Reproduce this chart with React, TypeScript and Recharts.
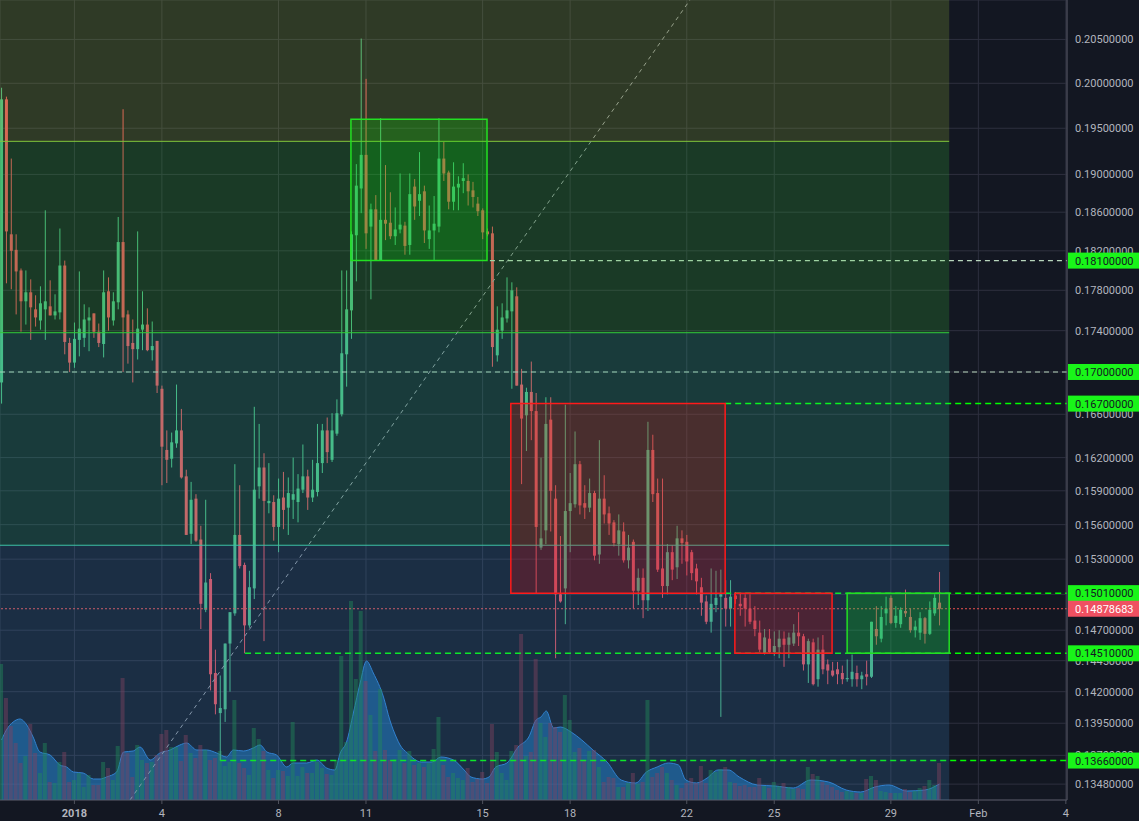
import React from 'react';
import {
  ComposedChart,
  Bar,
  Area,
  XAxis,
  YAxis,
  CartesianGrid,
  ReferenceArea,
  ReferenceLine,
} from 'recharts';

// 4h candles, index 0 = first bar on screen (index 15 = Jan 1 00:00)
const opens = [
  0.1690, 0.1982, 0.1837, 0.1821, 0.1800, 0.1769, 0.1778, 0.1761, 0.1750, 0.1761,
  0.1764, 0.1755, 0.1758, 0.1805, 0.1728, 0.1709, 0.1731, 0.1733, 0.1750, 0.1757,
  0.1739, 0.1727, 0.1779, 0.1750, 0.1768, 0.1829, 0.1756, 0.1728, 0.1722, 0.1741,
  0.1746, 0.1721, 0.1730, 0.1684, 0.1627, 0.1619, 0.1633, 0.1645, 0.1603, 0.1552,
  0.1583, 0.1547, 0.1487, 0.1513, 0.1435, 0.1403, 0.1406, 0.1459, 0.1484, 0.1551,
  0.1525, 0.1474, 0.1505, 0.1594, 0.1611, 0.1579, 0.1580, 0.1558, 0.1584, 0.1575,
  0.1582, 0.1580, 0.1591, 0.1603, 0.1584, 0.1589, 0.1615, 0.1645, 0.1618, 0.1642,
  0.1660, 0.1717, 0.1760, 0.1836, 0.1885, 0.1921, 0.1845, 0.1863, 0.1810, 0.1852,
  0.1849, 0.1835, 0.1842, 0.1846, 0.1826, 0.1887, 0.1872, 0.1882, 0.1832, 0.1841,
  0.1845, 0.1917, 0.1902, 0.1871, 0.1886, 0.1893, 0.1893, 0.1883, 0.1869, 0.1862,
  0.1840, 0.1838, 0.1716, 0.1740, 0.1752, 0.1759, 0.1774, 0.1688, 0.1659, 0.1681,
  0.1663, 0.1540, 0.1555, 0.1655, 0.1583, 0.1500, 0.1505, 0.1572, 0.1578, 0.1614,
  0.1579, 0.1575, 0.1588, 0.1534, 0.1583, 0.1570, 0.1562, 0.1543, 0.1554, 0.1529,
  0.1545, 0.1503, 0.1514, 0.1495, 0.1627, 0.1588, 0.1522, 0.1507, 0.1536, 0.1523,
  0.1548, 0.1545, 0.1536, 0.1522, 0.1506, 0.1494, 0.1477, 0.1491, 0.1498, 0.1497,
  0.1488, 0.1499, 0.1492, 0.1497, 0.1488, 0.1478, 0.1468, 0.1451, 0.1463, 0.1452,
  0.1456, 0.1463, 0.1458, 0.1459, 0.1468, 0.1465, 0.1442, 0.1460, 0.1430, 0.1454,
  0.1442, 0.1437, 0.1438, 0.1435, 0.1430, 0.1430, 0.1435, 0.1430, 0.1434, 0.1432,
  0.1471, 0.1463, 0.1484, 0.1497, 0.1476, 0.1475, 0.1486, 0.1481, 0.1470, 0.1468,
  0.1480, 0.1467, 0.1484, 0.1493,
];
const highs = [
  0.1995, 0.1985, 0.1917, 0.1837, 0.1802, 0.1800, 0.1791, 0.1775, 0.1784, 0.1862,
  0.1790, 0.1776, 0.1843, 0.1810, 0.1733, 0.1748, 0.1799, 0.1766, 0.1763, 0.1757,
  0.1747, 0.1800, 0.1793, 0.1778, 0.1855, 0.1971, 0.1760, 0.1751, 0.1840, 0.1779,
  0.1762, 0.1749, 0.1730, 0.1687, 0.1645, 0.1643, 0.1688, 0.1665, 0.1609, 0.1598,
  0.1587, 0.1559, 0.1582, 0.1518, 0.1454, 0.1433, 0.1459, 0.1485, 0.1614, 0.1595,
  0.1527, 0.1520, 0.1667, 0.1651, 0.1624, 0.1615, 0.1586, 0.1601, 0.1607, 0.1602,
  0.1620, 0.1605, 0.1632, 0.1609, 0.1618, 0.1651, 0.1651, 0.1657, 0.1661, 0.1674,
  0.1800, 0.1800, 0.1840, 0.1911, 0.2051, 0.2005, 0.1869, 0.1878, 0.1961, 0.1910,
  0.1881, 0.1865, 0.1901, 0.1850, 0.1901, 0.1895, 0.1924, 0.1888, 0.1867, 0.1877,
  0.1961, 0.1935, 0.1904, 0.1913, 0.1898, 0.1912, 0.1900, 0.1892, 0.1876, 0.1864,
  0.1843, 0.1845, 0.1764, 0.1767, 0.1793, 0.1788, 0.1783, 0.1703, 0.1685, 0.1710,
  0.1680, 0.1620, 0.1676, 0.1676, 0.1595, 0.1550, 0.1669, 0.1606, 0.1644, 0.1617,
  0.1595, 0.1601, 0.1590, 0.1636, 0.1604, 0.1576, 0.1564, 0.1569, 0.1562, 0.1551,
  0.1547, 0.1522, 0.1522, 0.1653, 0.1641, 0.1601, 0.1601, 0.1543, 0.1542, 0.1559,
  0.1555, 0.1551, 0.1538, 0.1526, 0.1514, 0.1499, 0.1522, 0.1520, 0.1521, 0.1512,
  0.1512, 0.1502, 0.1501, 0.1500, 0.1500, 0.1490, 0.1478, 0.1471, 0.1471, 0.1469,
  0.1470, 0.1469, 0.1468, 0.1475, 0.1485, 0.1467, 0.1463, 0.1463, 0.1464, 0.1466,
  0.1446, 0.1444, 0.1444, 0.1441, 0.1446, 0.1450, 0.1441, 0.1436, 0.1445, 0.1477,
  0.1490, 0.1490, 0.1498, 0.1499, 0.1490, 0.1489, 0.1504, 0.1488, 0.1478, 0.1485,
  0.1481, 0.1494, 0.1500, 0.1519,
];
const lows = [
  0.1670, 0.1787, 0.1781, 0.1756, 0.1739, 0.1746, 0.1731, 0.1744, 0.1741, 0.1731,
  0.1755, 0.1751, 0.1751, 0.1717, 0.1700, 0.1704, 0.1715, 0.1724, 0.1720, 0.1733,
  0.1724, 0.1714, 0.1740, 0.1745, 0.1761, 0.1700, 0.1708, 0.1690, 0.1712, 0.1721,
  0.1720, 0.1711, 0.1680, 0.1595, 0.1597, 0.1611, 0.1629, 0.1601, 0.1551, 0.1543,
  0.1545, 0.1471, 0.1485, 0.1421, 0.1402, 0.1366, 0.1396, 0.1420, 0.1482, 0.1522,
  0.1451, 0.1472, 0.1496, 0.1583, 0.1461, 0.1570, 0.1546, 0.1536, 0.1556, 0.1551,
  0.1565, 0.1562, 0.1588, 0.1573, 0.1580, 0.1585, 0.1606, 0.1615, 0.1616, 0.1640,
  0.1658, 0.1686, 0.1732, 0.1789, 0.1859, 0.1822, 0.1771, 0.1810, 0.1810, 0.1831,
  0.1832, 0.1826, 0.1838, 0.1816, 0.1816, 0.1852, 0.1856, 0.1828, 0.1822, 0.1810,
  0.1839, 0.1893, 0.1863, 0.1862, 0.1862, 0.1880, 0.1867, 0.1865, 0.1856, 0.1832,
  0.1835, 0.1705, 0.1710, 0.1732, 0.1748, 0.1684, 0.1687, 0.1596, 0.1626, 0.1636,
  0.1501, 0.1538, 0.1543, 0.1554, 0.1447, 0.1493, 0.1475, 0.1536, 0.1575, 0.1569,
  0.1565, 0.1571, 0.1529, 0.1526, 0.1561, 0.1551, 0.1541, 0.1533, 0.1527, 0.1522,
  0.1488, 0.1491, 0.1480, 0.1486, 0.1580, 0.1519, 0.1497, 0.1500, 0.1512, 0.1513,
  0.1526, 0.1516, 0.1512, 0.1500, 0.1482, 0.1475, 0.1468, 0.1485, 0.1400, 0.1473,
  0.1473, 0.1492, 0.1482, 0.1473, 0.1475, 0.1465, 0.1452, 0.1450, 0.1451, 0.1449,
  0.1447, 0.1440, 0.1447, 0.1457, 0.1457, 0.1437, 0.1427, 0.1425, 0.1424, 0.1434,
  0.1426, 0.1432, 0.1426, 0.1426, 0.1428, 0.1424, 0.1424, 0.1422, 0.1425, 0.1431,
  0.1458, 0.1460, 0.1474, 0.1475, 0.1472, 0.1472, 0.1481, 0.1468, 0.1464, 0.1462,
  0.1459, 0.1466, 0.1482, 0.1474,
];
const closes = [
  0.1982, 0.1840, 0.1820, 0.1799, 0.1769, 0.1778, 0.1763, 0.1753, 0.1767, 0.1769,
  0.1755, 0.1759, 0.1805, 0.1729, 0.1709, 0.1732, 0.1742, 0.1751, 0.1753, 0.1739,
  0.1728, 0.1778, 0.1753, 0.1769, 0.1829, 0.1753, 0.1725, 0.1722, 0.1742, 0.1746,
  0.1721, 0.1725, 0.1687, 0.1630, 0.1618, 0.1634, 0.1645, 0.1602, 0.1551, 0.1582,
  0.1546, 0.1492, 0.1510, 0.1434, 0.1410, 0.1407, 0.1459, 0.1485, 0.1551, 0.1524,
  0.1474, 0.1506, 0.1591, 0.1611, 0.1581, 0.1581, 0.1558, 0.1583, 0.1573, 0.1588,
  0.1587, 0.1592, 0.1603, 0.1584, 0.1591, 0.1615, 0.1645, 0.1625, 0.1645, 0.1661,
  0.1718, 0.1761, 0.1837, 0.1888, 0.1921, 0.1838, 0.1863, 0.1810, 0.1852, 0.1848,
  0.1835, 0.1842, 0.1847, 0.1825, 0.1879, 0.1866, 0.1879, 0.1841, 0.1841, 0.1848,
  0.1917, 0.1901, 0.1871, 0.1887, 0.1890, 0.1896, 0.1882, 0.1876, 0.1861, 0.1839,
  0.1837, 0.1724, 0.1741, 0.1753, 0.1760, 0.1780, 0.1687, 0.1656, 0.1681, 0.1663,
  0.1558, 0.1548, 0.1651, 0.1590, 0.1500, 0.1494, 0.1572, 0.1579, 0.1614, 0.1577,
  0.1575, 0.1588, 0.1533, 0.1583, 0.1569, 0.1561, 0.1544, 0.1555, 0.1529, 0.1540,
  0.1503, 0.1514, 0.1495, 0.1627, 0.1587, 0.1521, 0.1507, 0.1536, 0.1521, 0.1548,
  0.1544, 0.1528, 0.1518, 0.1511, 0.1493, 0.1477, 0.1492, 0.1497, 0.1500, 0.1488,
  0.1498, 0.1496, 0.1490, 0.1488, 0.1477, 0.1471, 0.1454, 0.1464, 0.1452, 0.1457,
  0.1463, 0.1458, 0.1464, 0.1468, 0.1465, 0.1442, 0.1461, 0.1426, 0.1454, 0.1438,
  0.1437, 0.1433, 0.1434, 0.1430, 0.1431, 0.1436, 0.1430, 0.1433, 0.1432, 0.1477,
  0.1465, 0.1481, 0.1488, 0.1476, 0.1482, 0.1487, 0.1484, 0.1470, 0.1473, 0.1480,
  0.1467, 0.1487, 0.1497, 0.14878683,
];
// volume per candle (K units)
const volumes = [
  136, 102, 74, 57, 37, 44, 76, 47, 27, 57,
  18, 17, 38, 48, 18, 20, 27, 13, 25, 15,
  15, 38, 32, 20, 54, 122, 47, 23, 55, 40,
  37, 38, 45, 66, 70, 53, 53, 39, 65, 47,
  42, 55, 50, 40, 42, 49, 34, 38, 100, 37,
  32, 25, 72, 61, 49, 30, 22, 30, 29, 24,
  78, 24, 33, 27, 27, 38, 32, 26, 25, 40,
  144, 58, 199, 121, 189, 119, 85, 49, 111, 50,
  40, 41, 50, 37, 49, 35, 37, 33, 37, 51,
  83, 35, 23, 27, 22, 20, 32, 18, 21, 28,
  17, 76, 48, 27, 20, 49, 55, 166, 44, 48,
  141, 77, 63, 77, 73, 68, 105, 80, 48, 52,
  40, 49, 50, 33, 18, 23, 22, 13, 13, 17,
  27, 16, 18, 100, 23, 27, 33, 27, 20, 15,
  12, 17, 22, 17, 34, 17, 30, 28, 31, 33,
  18, 17, 14, 15, 13, 13, 22, 14, 12, 18,
  14, 17, 13, 11, 12, 11, 33, 26, 24, 18,
  15, 13, 10, 8, 9, 8, 7, 7, 21, 24,
  20, 9, 8, 7, 7, 7, 11, 8, 9, 12,
  14, 20, 15, 37,
];
// smoothed volume (blue area), sampled along the candle index
const maIndex = [
  0, 1, 2.4, 3.8, 5.2, 6.5, 7.9, 10, 12, 13.4, 14.8, 16.8, 18.9, 20.3, 21.6, 23.7,
  25.1, 27.1, 28.5, 30.6, 32.6, 34.7, 36.7, 38.1, 40.2, 42.2, 44.3, 46.3, 47.7,
  49.8, 51.8, 53.2, 54.6, 56.6, 58.7, 60, 62.8, 64.9, 66.9, 68.6, 69.7, 71, 72.4,
  73.8, 75.1, 76.5, 78.6, 79.9, 81.3, 82, 83.5, 86.4, 88.6, 90.4, 93, 95.2, 96.6,
  98.9, 100.3, 101.7, 104, 106.3, 108.5, 110, 111, 112.1, 113.6, 115, 117.2, 119.4,
  121.7, 124.6, 127.5, 130.5, 132.7, 134.9, 137.2, 139.3, 140.8, 143, 145.2, 147.4,
  149.6, 151.8, 155.5, 159.2, 162.9, 166.5, 170.2, 173.8, 176.8, 179.7, 182.6,
  186.3, 190, 193,
];
const maVolume = [
  60, 70, 78, 81, 75, 63, 48, 45, 35, 33, 28, 27, 21, 21, 23, 28,
  48, 49, 53, 40, 47, 50, 55, 57, 50, 50, 47, 43, 50,
  49, 52, 55, 48, 45, 33, 37, 37, 40, 32, 30, 47, 58, 87,
  117, 139, 127, 103, 80, 62, 55, 47, 38, 38, 43, 40, 30, 23,
  21, 23, 33, 37, 53, 63, 80, 83, 89, 72, 73, 68, 60,
  50, 38, 20, 17, 28, 33, 37, 35, 20, 17, 22, 30,
  30, 23, 15, 14, 12, 20, 18, 10, 8, 13, 15,
  9, 10, 16,
];

const priceTicks = [
  0.205, 0.2, 0.195, 0.19, 0.186, 0.182, 0.178, 0.174, 0.17, 0.166, 0.162, 0.159,
  0.156, 0.153, 0.15, 0.147, 0.1445, 0.142, 0.1395, 0.137, 0.1348,
];
const tickDays = [0, 3, 7, 10, 14, 17, 21, 24, 28, 31, 34];
const tickLabels = ['2018', '4', '8', '11', '15', '18', '22', '25', '29', 'Feb', '4'];

// fib zones (price bands) and the levels marked on the price scale
const zoneBreaks = [0.2096, 0.19357, 0.1738, 0.1542, 0.1336];
const zoneColors = ['#9fc636', '#36c636', '#31cb9f', '#3b8acc'];
const zoneLineColors = ['#8cc43e', '#33cc33', '#3fc9a0'];
const greenLevels = [0.181, 0.17, 0.167, 0.1501, 0.1451, 0.1366];
const greenLevelStart = [100.5, -0.31, 148.9, 148.9, 50.1, 45.0];
const lastPrice = 0.14878683;

const UP = '#4cb884';
const DOWN = '#e6505c';
const X_MIN = -0.309;
const X_MAX = 219.24;
const PRICE_MIN = 0.1336;
const PRICE_MAX = 0.2096;
const FONT = 'Roboto, "Liberation Sans", Arial, sans-serif';

const data = opens.map((open, i) => ({
  i,
  open,
  high: highs[i],
  low: lows[i],
  close: closes[i],
  volume: volumes[i],
}));
const maData = maIndex.map((i, n) => ({ i, ma: maVolume[n] }));

const Candle = (props: any) => {
  const { x, y, width, height, payload } = props;
  if (x == null || y == null) return null;
  const top = Math.min(y, y + height);
  const bottom = Math.max(y, y + height);
  const { open, close, high, low } = payload;
  const span = Math.log(high) - Math.log(low) || 1;
  const toY = (v: number) => top + ((Math.log(high) - Math.log(v)) / span) * (bottom - top);
  const color = close >= open ? UP : DOWN;
  const cx = x + width / 2;
  const bTop = toY(Math.max(open, close));
  const bBot = toY(Math.min(open, close));
  return (
    <g>
      <line x1={cx} x2={cx} y1={top} y2={bottom} stroke={color} strokeWidth={1} />
      <rect x={cx - 1.5} y={bTop} width={3} height={Math.max(1, bBot - bTop)} fill={color} />
    </g>
  );
};

const VolumeBar = (props: any) => {
  const { x, y, width, height, payload } = props;
  if (x == null || y == null || !payload) return null;
  const up = payload.close >= payload.open;
  const h = Number(height) || 0;
  const top = Math.min(y, y + h);
  const cx = x + (Number(width) || 0) / 2;
  return (
    <rect
      x={cx - 2}
      y={top}
      width={4}
      height={Math.abs(h)}
      fill={up ? '#1a8a3e' : '#923045'}
      fillOpacity={0.45}
    />
  );
};

const Badge = (props: any) => {
  const { viewBox, text, bg, fg } = props;
  if (!viewBox) return null;
  const left = viewBox.x + viewBox.width + 1;
  const cy = viewBox.y;
  return (
    <g>
      <rect x={left} y={cy - 8} width={72} height={16} fill={bg} />
      <text x={left + 7} y={cy + 4} fill={fg} fontSize={11} fontFamily={FONT}>
        {text}
      </text>
    </g>
  );
};

const DateTick = (props: any) => {
  const { x, y, index } = props;
  const label = tickLabels[index] ?? '';
  return (
    <text
      x={x}
      y={y + 11}
      textAnchor="middle"
      fill="#b2b5be"
      fontSize={11}
      fontFamily={FONT}
      fontWeight={label === '2018' ? 700 : 400}
    >
      {label}
    </text>
  );
};

export default function App() {
  const xTicks = tickDays.map((d) => 15 + 6 * d);
  return (
    <div
      style={{
        position: 'fixed',
        left: 0,
        top: 0,
        width: 1139,
        height: 821,
        background: '#131722',
        fontFamily: FONT,
      }}
    >
      <ComposedChart
        width={1139}
        height={821}
        data={data}
        margin={{ top: 0, right: 0, bottom: 0, left: 0 }}
      >
        <CartesianGrid xAxisId="x" yAxisId="price" stroke="#2e303f" strokeWidth={1} />
        <XAxis
          xAxisId="x"
          dataKey="i"
          type="number"
          domain={[X_MIN, X_MAX]}
          allowDataOverflow
          ticks={xTicks}
          interval={0}
          height={21}
          tick={<DateTick />}
          tickSize={4}
          tickLine={{ stroke: '#50535e' }}
          axisLine={{ stroke: '#50535e' }}
        />
        <XAxis xAxisId="xv" dataKey="i" type="number" domain={[X_MIN, X_MAX]} allowDataOverflow hide />
        <XAxis xAxisId="xa" dataKey="i" type="number" domain={[X_MIN, X_MAX]} allowDataOverflow hide />
        <YAxis
          yAxisId="price"
          orientation="right"
          scale="log"
          domain={[PRICE_MIN, PRICE_MAX]}
          allowDataOverflow
          ticks={priceTicks}
          interval={0}
          width={72}
          tickFormatter={(v: number) => v.toFixed(8)}
          tick={{ fill: '#b2b5be', fontSize: 11, fontFamily: FONT }}
          tickLine={false}
          tickSize={6}
          tickMargin={2}
          axisLine={{ stroke: '#50535e' }}
        />
        <YAxis yAxisId="vol" domain={[0, 800]} allowDataOverflow hide />

        <Area
          xAxisId="xa"
          yAxisId="vol"
          data={maData}
          dataKey="ma"
          type="monotone"
          stroke="#2f7fd0"
          strokeWidth={1}
          fill="#2196f3"
          fillOpacity={0.43}
          isAnimationActive={false}
          dot={false}
          activeDot={false}
        />
        <Bar
          xAxisId="xv"
          yAxisId="vol"
          dataKey="volume"
          barSize={4}
          fill="#1a8a3e"
          shape={(p: any) => <VolumeBar {...p} />}
          isAnimationActive={false}
        />
        <Bar
          xAxisId="x"
          yAxisId="price"
          dataKey={(d: any) => [d.low, d.high]}
          barSize={3}
          shape={(p: any) => <Candle {...p} />}
          isAnimationActive={false}
        />

        {zoneColors.map((c, n) => (
          <ReferenceArea
            key={'z' + n}
            xAxisId="x"
            yAxisId="price"
            x1={X_MIN}
            x2={195}
            y1={zoneBreaks[n + 1]}
            y2={zoneBreaks[n]}
            fill={c}
            fillOpacity={0.2}
            stroke="none"
            ifOverflow="hidden"
            zIndex={700}
          />
        ))}
        {zoneLineColors.map((c, n) => (
          <ReferenceLine
            key={'zl' + n}
            xAxisId="x"
            yAxisId="price"
            segment={[
              { x: X_MIN, y: zoneBreaks[n + 1] },
              { x: 195, y: zoneBreaks[n + 1] },
            ]}
            stroke={c}
            strokeWidth={1}
            ifOverflow="hidden"
          />
        ))}

        {/* boxes */}
        <ReferenceArea xAxisId="x" yAxisId="price" x1={71.9} x2={99.9} y1={0.181} y2={0.196}
          fill="#00ff00" fillOpacity={0.2} stroke="#22e022" strokeWidth={1.5} zIndex={750} />
        <ReferenceArea xAxisId="x" yAxisId="price" x1={104.8} x2={148.9} y1={0.1501} y2={0.167}
          fill="#ff0000" fillOpacity={0.21} stroke="#ff1a1a" strokeWidth={1.5} zIndex={750} />
        <ReferenceArea xAxisId="x" yAxisId="price" x1={150.9} x2={170.9} y1={0.1451} y2={0.1501}
          fill="#ff0000" fillOpacity={0.21} stroke="#ff1a1a" strokeWidth={1.5} zIndex={750} />
        <ReferenceArea xAxisId="x" yAxisId="price" x1={174} x2={195} y1={0.1451} y2={0.1501}
          fill="#00ff00" fillOpacity={0.2} stroke="#22e022" strokeWidth={1.5} zIndex={750} />

        {/* trend line */}
        <ReferenceLine
          xAxisId="x"
          yAxisId="price"
          segment={[
            { x: 26.44, y: PRICE_MIN },
            { x: 141.67, y: PRICE_MAX },
          ]}
          stroke="#9598a1"
          strokeDasharray="4 4"
          ifOverflow="hidden"
        />

        {greenLevels.map((p, n) => (
          <ReferenceLine
            key={'gl' + n}
            xAxisId="x"
            yAxisId="price"
            segment={[
              { x: greenLevelStart[n], y: p },
              { x: X_MAX, y: p },
            ]}
            stroke={n < 2 ? '#b9d6bd' : '#00ff00'}
            strokeDasharray={n < 2 ? '5 4' : '6 4'}
            strokeWidth={n < 2 ? 1.2 : 1.5}
            ifOverflow="hidden"
          />
        ))}
        <ReferenceLine
          xAxisId="x"
          yAxisId="price"
          y={lastPrice}
          stroke="#ef5350"
          strokeDasharray="2 2"
          strokeWidth={1}
        />

        {greenLevels.map((p, n) => (
          <ReferenceLine
            key={'gb' + n}
            xAxisId="x"
            yAxisId="price"
            y={p}
            stroke="none"
            zIndex={2500}
            label={<Badge text={p.toFixed(8)} bg="#19f519" fg="#131722" />}
          />
        ))}
        <ReferenceLine
          xAxisId="x"
          yAxisId="price"
          y={lastPrice}
          stroke="none"
          zIndex={2500}
          label={<Badge text={lastPrice.toFixed(8)} bg="#ef5061" fg="#ffffff" />}
        />
      </ComposedChart>
    </div>
  );
}
